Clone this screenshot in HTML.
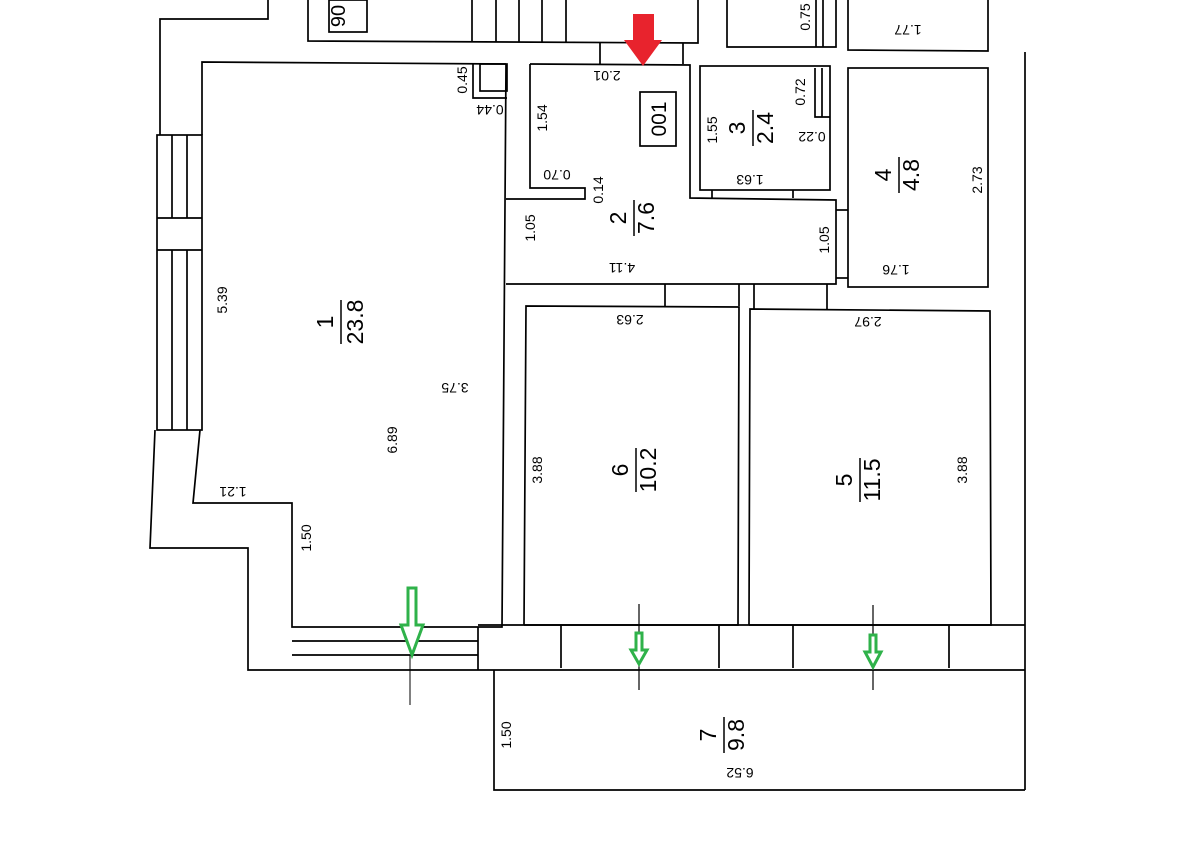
<!DOCTYPE html>
<html><head><meta charset="utf-8"><style>
html,body{margin:0;padding:0;background:#fff;}
svg{display:block;}
text{font-family:"Liberation Sans",sans-serif;fill:#000;}
.s{font-size:14px;}
.b{font-size:23px;}
</style></head><body>
<svg width="1201" height="842" viewBox="0 0 1201 842" xmlns="http://www.w3.org/2000/svg">
<rect width="1201" height="842" fill="#fff"/>
<g stroke="#000" stroke-width="1.7" fill="none">
<polyline points="268,0 268,19 160,19 160,135"/>
<polyline points="308,0 308,41 698,43 698,0"/>
<rect x="329" y="0" width="38" height="32"/>
<line x1="472" y1="0" x2="472" y2="42"/><line x1="496" y1="0" x2="496" y2="42"/><line x1="519" y1="0" x2="519" y2="42"/><line x1="542" y1="0" x2="542" y2="42"/><line x1="566" y1="0" x2="566" y2="42"/>
<line x1="600" y1="43" x2="600" y2="64"/>
<line x1="683" y1="43" x2="683" y2="64"/>
<polyline points="727,0 727,47 836,47 836,0"/>
<line x1="816" y1="0" x2="816" y2="47"/><line x1="823" y1="0" x2="823" y2="47"/>
<polyline points="848,0 848,50 988,51 988,0"/>
<rect x="157" y="135" width="45" height="295"/>
<line x1="172" y1="135" x2="172" y2="218"/><line x1="187" y1="135" x2="187" y2="218"/>
<line x1="157" y1="218" x2="202" y2="218"/><line x1="157" y1="250" x2="202" y2="250"/>
<line x1="172" y1="250" x2="172" y2="430"/><line x1="187" y1="250" x2="187" y2="430"/>
<polyline points="155,430 150,548 248,548 248,670 1025,670"/>
<polyline points="202,135 202,62 506,64"/>
<polyline points="200,430 193,503 292,503 292,627 478,627"/>
<line x1="292" y1="641" x2="478" y2="641"/><line x1="292" y1="655" x2="478" y2="655"/>
<line x1="478" y1="627" x2="478" y2="670"/>
<polyline points="478,627 502,627 506,64"/>
<rect x="480" y="64" width="27" height="27"/>
<polyline points="473,64 473,98 507,98"/>
<polyline points="530,64 690,65 690,198 836,200 836,284 506,284"/>
<polyline points="530,64 530,188 585,188 585,199 506,199"/>
<rect x="640" y="92" width="36" height="54"/>
<rect x="700" y="66" width="130" height="124"/>
<polyline points="815,68 815,117 830,117"/><line x1="822" y1="68" x2="822" y2="117"/>
<line x1="712" y1="190" x2="712" y2="198"/><line x1="793" y1="190" x2="793" y2="198"/>
<rect x="848" y="68" width="140" height="219"/>
<line x1="836" y1="210" x2="848" y2="210"/><line x1="836" y1="278" x2="848" y2="278"/>
<line x1="665" y1="284" x2="665" y2="306"/><line x1="739" y1="284" x2="739" y2="306"/>
<line x1="754" y1="284" x2="754" y2="310"/><line x1="827" y1="284" x2="827" y2="310"/>
<polyline points="524,625 526,306 739,307 738,625 524,625"/>
<polyline points="749,625 750,309 990,311 991,625 749,625"/>
<line x1="478" y1="625" x2="1025" y2="625"/>
<line x1="561" y1="625" x2="561" y2="668"/><line x1="719" y1="625" x2="719" y2="668"/>
<line x1="793" y1="625" x2="793" y2="668"/><line x1="949" y1="625" x2="949" y2="668"/>
<line x1="1025" y1="52" x2="1025" y2="790"/>
<polyline points="494,670 494,790 1025,790"/>
<line x1="410" y1="655" x2="410" y2="705" stroke-width="1"/>
<line x1="639" y1="604" x2="639" y2="690" stroke-width="1.2"/>
<line x1="873" y1="605" x2="873" y2="690" stroke-width="1.2"/>
</g>
<polygon points="633,14 654,14 654,40 662,40 643,66 624,40 633,40" fill="#e8232d"/>
<g fill="#fff" stroke="#2fb24a" stroke-width="3">
<polygon points="408,588 416,588 416,625 423,625 412,655 401,625 408,625"/>
<polygon points="636,633 642,633 642,650 647,650 639,664 631,650 636,650"/>
<polygon points="870,635 876,635 876,652 881,652 873,667 865,652 870,652"/>
</g>
<g class="s" text-anchor="middle">
<text transform="translate(467,80) rotate(-90)">0.45</text>
<text transform="translate(547,118) rotate(-90)">1.54</text>
<text transform="translate(603,190) rotate(-90)">0.14</text>
<text transform="translate(535,228) rotate(-90)">1.05</text>
<text transform="translate(829,240) rotate(-90)">1.05</text>
<text transform="translate(717,130) rotate(-90)">1.55</text>
<text transform="translate(805,92) rotate(-90)">0.72</text>
<text transform="translate(982,180) rotate(-90)">2.73</text>
<text transform="translate(810,17) rotate(-90)">0.75</text>
<text transform="translate(227,300) rotate(-90)">5.39</text>
<text transform="translate(397,440) rotate(-90)">6.89</text>
<text transform="translate(311,538) rotate(-90)">1.50</text>
<text transform="translate(542,470) rotate(-90)">3.88</text>
<text transform="translate(967,470) rotate(-90)">3.88</text>
<text transform="translate(511,735) rotate(-90)">1.50</text>
</g>
<g class="s" text-anchor="middle">
<text transform="translate(607,71) rotate(180)">2.01</text>
<text transform="translate(490,105) rotate(180)">0.44</text>
<text transform="translate(557,170) rotate(180)">0.70</text>
<text transform="translate(622,263) rotate(180)">4.11</text>
<text transform="translate(812,132) rotate(180)">0.22</text>
<text transform="translate(750,175) rotate(180)">1.63</text>
<text transform="translate(908,25) rotate(180)">1.77</text>
<text transform="translate(896,265) rotate(180)">1.76</text>
<text transform="translate(630,315) rotate(180)">2.63</text>
<text transform="translate(868,317) rotate(180)">2.97</text>
<text transform="translate(455,383) rotate(180)">3.75</text>
<text transform="translate(233,487) rotate(180)">1.21</text>
<text transform="translate(740,768) rotate(180)">6.52</text>
</g>
<text transform="translate(345,16) rotate(-90)" text-anchor="middle" font-size="20">90</text>
<text transform="translate(666,119) rotate(-90)" text-anchor="middle" font-size="21">001</text>
<g class="b" text-anchor="middle" stroke="none">
<g transform="translate(341,322) rotate(-90)"><text x="0" y="-8">1</text><text x="0" y="22">23.8</text><line x1="-22" y1="0" x2="22" y2="0" stroke="#000" stroke-width="1.5"/></g>
<g transform="translate(634,218) rotate(-90)"><text x="0" y="-8">2</text><text x="0" y="20">7.6</text><line x1="-18" y1="0" x2="18" y2="0" stroke="#000" stroke-width="1.5"/></g>
<g transform="translate(753,128) rotate(-90)"><text x="0" y="-8">3</text><text x="0" y="20">2.4</text><line x1="-18" y1="0" x2="18" y2="0" stroke="#000" stroke-width="1.5"/></g>
<g transform="translate(899,175) rotate(-90)"><text x="0" y="-8">4</text><text x="0" y="20">4.8</text><line x1="-18" y1="0" x2="18" y2="0" stroke="#000" stroke-width="1.5"/></g>
<g transform="translate(636,470) rotate(-90)"><text x="0" y="-8">6</text><text x="0" y="20">10.2</text><line x1="-22" y1="0" x2="22" y2="0" stroke="#000" stroke-width="1.5"/></g>
<g transform="translate(860,480) rotate(-90)"><text x="0" y="-8">5</text><text x="0" y="20">11.5</text><line x1="-22" y1="0" x2="22" y2="0" stroke="#000" stroke-width="1.5"/></g>
<g transform="translate(724,735) rotate(-90)"><text x="0" y="-8">7</text><text x="0" y="20">9.8</text><line x1="-18" y1="0" x2="18" y2="0" stroke="#000" stroke-width="1.5"/></g>
</g>
</svg>
</body></html>
